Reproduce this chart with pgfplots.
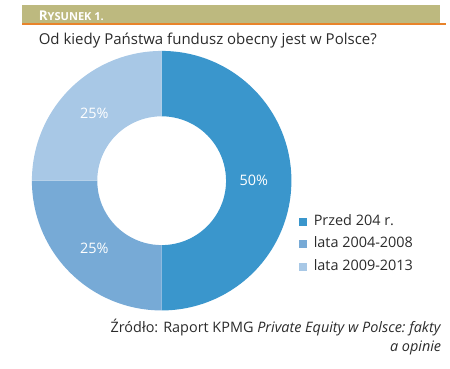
\documentclass[border=0pt]{standalone}
\usepackage{pgfplots}
\pgfplotsset{compat=1.18}
\usepackage{pgfplotstable}
\usepackage{fontspec}
\setmainfont{Open Sans}
\usetikzlibrary{calc}
\definecolor{cA}{HTML}{3A96CC}
\definecolor{cB}{HTML}{77AAD6}
\definecolor{cC}{HTML}{A8C8E6}
\definecolor{band}{HTML}{BDB97F}
\definecolor{orng}{HTML}{E8832A}
\definecolor{txt}{HTML}{2B2B2B}

\pgfplotstableread{
value
50
25
25
}\donutdata

\begin{document}
\pgfplotstablegetelem{0}{value}\of\donutdata \let\vA\pgfplotsretval
\pgfplotstablegetelem{1}{value}\of\donutdata \let\vB\pgfplotsretval
\pgfplotstablegetelem{2}{value}\of\donutdata \let\vC\pgfplotsretval
\pgfmathsetmacro\aA{90}
\pgfmathsetmacro\aB{\aA-3.6*\vA}
\pgfmathsetmacro\aC{\aB-3.6*\vB}
\pgfmathsetmacro\aD{\aC-3.6*\vC}
\pgfmathsetmacro\mA{(\aA+\aB)/2}
\pgfmathsetmacro\mB{(\aB+\aC)/2}
\pgfmathsetmacro\mC{(\aC+\aD)/2}
\begin{tikzpicture}[x=1pt,y=1pt]
\path[use as bounding box] (0,0) rectangle (450,383);
\fill[band] (5,378) rectangle (440,359.5);
\fill[orng] (5,359.5) rectangle (446,356.5);
\node[anchor=base west, text=white, inner sep=0] at (22,361.5) {\bfseries\fontsize{14}{14}\selectfont R\fontsize{11.5}{11.5}\selectfont YSUNEK 1.};
\node[anchor=base west, inner sep=0, text=txt] at (22,337) {\fontsize{15.6}{15.6}\selectfont Od kiedy Państwa fundusz obecny jest w Polsce?};
\begin{axis}[at={(150pt,195pt)}, anchor=origin,
  scale only axis, width=270pt, height=270pt,
  xmin=-1, xmax=1, ymin=-1, ymax=1, hide axis, clip=false,
  legend style={at={(axis description cs:1.03,0.255)}, anchor=west, draw=none, fill=none,
    font=\fontsize{15}{15}\selectfont, text=txt, row sep=5pt, inner sep=0pt,
    nodes={inner sep=2pt, text height=11pt, text depth=3.5pt},
    /tikz/every odd column/.append style={column sep=5pt}},
  legend cell align=left,
  legend image code/.code={\fill[#1] (0pt,-4pt) rectangle (8pt,4pt);}]
\addlegendimage{fill=cA, draw=none}
\addlegendentry{Przed 204 r.}
\addlegendimage{fill=cB, draw=none}
\addlegendentry{lata 2004-2008}
\addlegendimage{fill=cC, draw=none}
\addlegendentry{lata 2009-2013}
\fill[cA] (axis cs:0,0) ++(\aA:135pt) arc[start angle=\aA, end angle=\aB, radius=135pt] -- ++(\aB:-68pt) arc[start angle=\aB, end angle=\aA, radius=67pt] -- cycle;
\fill[cB] (axis cs:0,0) ++(\aB:135pt) arc[start angle=\aB, end angle=\aC, radius=135pt] -- ++(\aC:-68pt) arc[start angle=\aC, end angle=\aB, radius=67pt] -- cycle;
\fill[cC] (axis cs:0,0) ++(\aC:135pt) arc[start angle=\aC, end angle=\aD, radius=135pt] -- ++(\aD:-68pt) arc[start angle=\aD, end angle=\aC, radius=67pt] -- cycle;
\node[text=white, font=\fontsize{15}{15}\selectfont] at ($(axis cs:0,0)+(\mA:96pt)$) {\vA\%};
\node[text=white, font=\fontsize{15}{15}\selectfont] at ($(axis cs:0,0)+(\mB:99pt)$) {\vB\%};
\node[text=white, font=\fontsize{15}{15}\selectfont] at ($(axis cs:0,0)+(\mC:99pt)$) {\vC\%};
\end{axis}
\node[anchor=base east, inner sep=0, text=txt, font=\fontsize{15}{15}\selectfont] at (441,37) {Źródło: Raport KPMG \textit{Private Equity w Polsce:\ fakty}};
\node[anchor=base east, inner sep=0, text=txt, font=\fontsize{15}{15}\selectfont] at (441,17) {\textit{a opinie}};
\end{tikzpicture}
\end{document}
